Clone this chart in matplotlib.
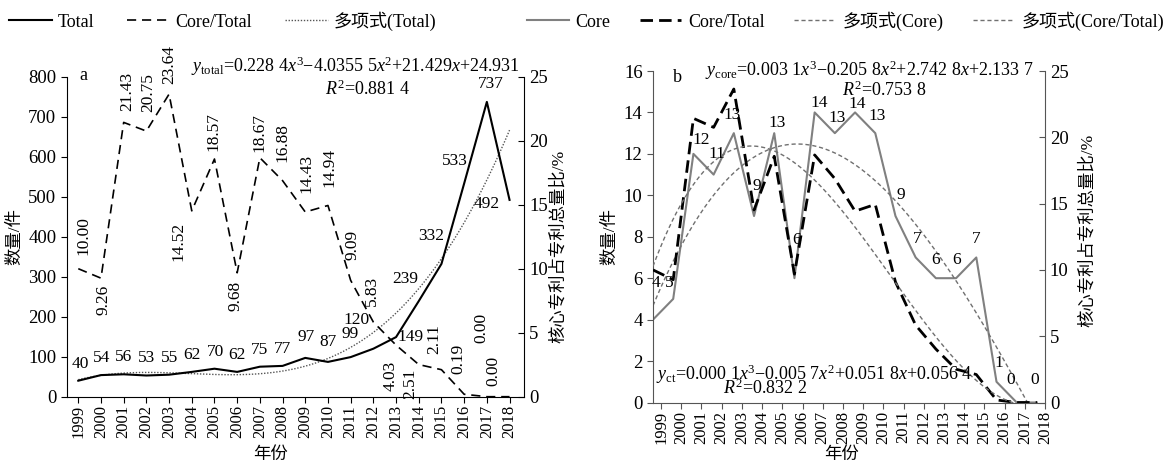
import numpy as np
import matplotlib
matplotlib.use('Agg')
import matplotlib.pyplot as plt
from matplotlib.lines import Line2D

plt.rcParams['font.family'] = ['Liberation Serif', 'Noto Sans CJK SC']
plt.rcParams['mathtext.fontset'] = 'custom'
plt.rcParams['mathtext.rm'] = 'Liberation Serif'
plt.rcParams['mathtext.it'] = 'Liberation Serif:italic'
plt.rcParams['font.size'] = 12

# data
years = [str(y) for y in range(1999, 2019)]
total = [40, 54, 56, 53, 55, 62, 70, 62, 75, 77, 97, 87, 99, 120, 149, 239, 332, 533, 737, 492]
core = [4, 5, 12, 11, 13, 9, 13, 6, 14, 13, 14, 13, 9, 7, 6, 6, 7, 1, 0, 0]
core_ratio = [10.00, 9.26, 21.43, 20.75, 23.64, 14.52, 18.57, 9.68, 18.67, 16.88,
              14.43, 14.94, 9.09, 5.83, 4.03, 2.51, 2.11, 0.19, 0.00, 0.00]

eq_total = r'$y_{\mathrm{total}}$=0.228 4$x^3$−4.0355 5$x^2$+21.429$x$+24.931'
r2_total = r'$R^2$=0.881 4'
eq_core = r'$y_{\mathrm{core}}$=0.003 1$x^3$−0.205 8$x^2$+2.742 8$x$+2.133 7'
r2_core = r'$R^2$=0.753 8'
eq_ct = r'$y_{\mathrm{ct}}$=0.000 1$x^3$−0.005 7$x^2$+0.051 8$x$+0.056 4'
r2_ct = r'$R^2$=0.832 2'

# label offsets in pixels (dx, dy)
total_off = [(2, 17), (1, 17), (0, 17), (0, 17), (0, 17), (0, 17), (1, 17), (0, 17), (0, 17), (0, 17),
             (1, 21), (0, 20), (-1, 23), (-17, 29), (14, 0), (-14, 22), (-10, 28), (-9, 22), (4, 18), (-23, -4)]
ratio_off = [(5, 33), (3, -22), (4, 31), (2, 39), (0, 30), (-13, -31), (-1, 27), (-2, -23), (0, 25), (0, 38),
             (1, 39), (1, 38), (2, 35), (-1, 31), (-5, -31), (-9, -19), (-7, 31), (-6, 35), (-5, 69), (-16, 26)]
core_off = [(3, 37), (-4, 16), (8, 14), (3, 21), (-2, 18), (3, 30), (3, 10), (2, 38), (5, 9), (2, 15),
            (2, 8), (2, 17), (5, 21), (2, 18), (0, 18), (0, 18), (0, 18), (2, 19), (-6, 22), (-2, 22)]

W, H = 1168, 466
fig = plt.figure(figsize=(W / 100, H / 100), dpi=100)


def box(l, t, r, b):
    return [l / W, 1 - b / H, (r - l) / W, (b - t) / H]


x = np.arange(len(years))
xf = np.linspace(0, len(years) - 1, 300)


def cubic(vals):
    # excel style cubic trendline, x = 1..n
    c = np.polyfit(x + 1, vals, 3)
    return np.polyval(c, xf + 1)


# ---------------- panel a
ax1 = fig.add_axes(box(66.7, 76.7, 524.3, 396.7))
ax1r = ax1.twinx()
ax1.plot(x, total, color='black', lw=1.5, zorder=3)
ax1.plot(xf, cubic(total), color='#555555', lw=1, ls=(0, (1, 1.2)))
ax1r.plot(x, core_ratio, color='black', lw=1.2, dashes=(5.5, 3.5))
ax1.set_xlim(-0.51, 19.65)
ax1.set_ylim(0, 800)
ax1r.set_ylim(0, 25)
ax1.set_xticks(x, years)
ax1r.set_yticks(range(0, 26, 5))
for i in x:
    ax1.annotate(str(total[i]), (x[i], total[i]), xytext=total_off[i], textcoords='offset pixels',
                 ha='center', va='center', fontsize=12.5)
    ax1r.annotate('%.2f' % core_ratio[i], (x[i], core_ratio[i]), xytext=ratio_off[i],
                  textcoords='offset pixels', ha='center', va='center', rotation=90, fontsize=12.5)

# ---------------- panel b
ax2 = fig.add_axes(box(653, 71, 1045, 402.5))
ax2r = ax2.twinx()
ax2.plot(x, core, color='#808080', lw=1.5)
ax2.plot(xf, cubic(core), color='#707070', lw=1, dashes=(3, 2))
ax2r.plot(x, core_ratio, color='black', lw=2, dashes=(4.5, 2.2))
ax2r.plot(xf, cubic(core_ratio), color='#707070', lw=1, dashes=(3, 2))
ax2.set_xlim(0, 19.4)
ax2.set_ylim(0, 16)
ax2.set_yticks(range(0, 17, 2))
ax2r.set_ylim(0, 25)
ax2r.set_yticks(range(0, 26, 5))
ax2.set_xticks(x + 0.4, years)
for i in x:
    ax2.annotate(str(core[i]), (x[i], core[i]), xytext=core_off[i], textcoords='offset pixels',
                 ha='center', va='center', fontsize=12.5)

for a, ar, col in [(ax1, ax1r, 'black'), (ax2, ax2r, '#555555')]:
    for s in ['top', 'right']:
        a.spines[s].set_visible(False)
    for s in ['top', 'left', 'bottom']:
        ar.spines[s].set_visible(False)
    a.spines['left'].set_color(col)
    a.spines['bottom'].set_color(col)
    ar.spines['right'].set_color(col)
    a.tick_params(axis='y', direction='out', length=4, labelsize=13.5, color=col)
    a.tick_params(axis='x', direction='out', length=4, labelsize=12, labelrotation=90, color=col, pad=2)
    ar.tick_params(axis='y', direction='in', length=4, labelsize=13.5, color=col)
    a.set_ylabel('数量/件', fontsize=12.5)
    ar.set_ylabel('核心专利占专利总量比/%', fontsize=12.5)
    a.set_xlabel('年份', fontsize=12.5)

ax1.yaxis.set_label_coords(-0.0955, 0.5)
ax1r.yaxis.set_label_coords(1.058, 0.47)
ax1.xaxis.set_label_coords(0.445, -0.157)
ax2.yaxis.set_label_coords(-0.089, 0.5)
ax2r.yaxis.set_label_coords(1.089, 0.52)
ax2.xaxis.set_label_coords(0.482, -0.134)

# equations and panel letters
fig.text(191 / W, 1 - 66 / H, eq_total, ha='left', va='center', fontsize=13)
fig.text(325 / W, 1 - 89 / H, r2_total, ha='left', va='center', fontsize=13)
fig.text(705 / W, 1 - 70 / H, eq_core, ha='left', va='center', fontsize=13)
fig.text(842 / W, 1 - 90 / H, r2_core, ha='left', va='center', fontsize=13)
fig.text(656 / W, 1 - 374 / H, eq_ct, ha='left', va='center', fontsize=13)
fig.text(723 / W, 1 - 388 / H, r2_ct, ha='left', va='center', fontsize=13)
fig.text(83 / W, 1 - 76 / H, 'a', ha='center', va='center', fontsize=13)
fig.text(677 / W, 1 - 78 / H, 'b', ha='center', va='center', fontsize=13)

# legends
h1 = [Line2D([], [], color='black', lw=1.5),
      Line2D([], [], color='black', lw=1.2, dashes=(5.5, 3.5)),
      Line2D([], [], color='#555555', lw=1, ls=(0, (1, 1.2)))]
fig.legend(h1, ['Total', 'Core/Total', '多项式(Total)'], loc='center left',
           bbox_to_anchor=(9 / W, 1 - 21 / H), ncol=3, frameon=False, fontsize=13,
           handlelength=2.4, handletextpad=0.3, columnspacing=1.8, borderpad=0, borderaxespad=0)
h2 = [Line2D([], [], color='#808080', lw=1.5),
      Line2D([], [], color='black', lw=2, dashes=(4.5, 2.2)),
      Line2D([], [], color='#707070', lw=1, dashes=(3, 2)),
      Line2D([], [], color='#707070', lw=1, dashes=(3, 2))]
fig.legend(h2, ['Core', 'Core/Total', '多项式(Core)', '多项式(Core/Total)'], loc='center left',
           bbox_to_anchor=(527 / W, 1 - 21 / H), ncol=4, frameon=False, fontsize=13,
           handlelength=2.3, handletextpad=0.4, columnspacing=1.6, borderpad=0, borderaxespad=0)

fig.savefig('out.png', dpi=100)
